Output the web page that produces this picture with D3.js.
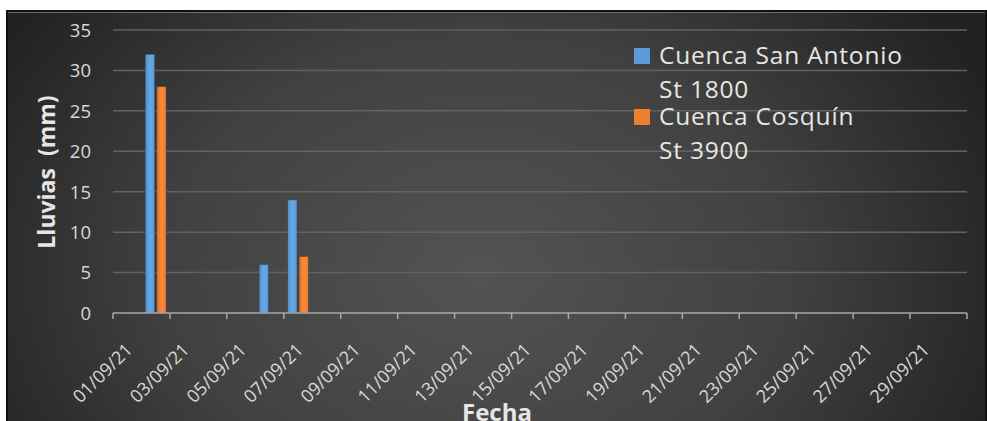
<!DOCTYPE html>
<html><head><meta charset="utf-8">
<script src="https://cdn.jsdelivr.net/npm/d3@7/dist/d3.min.js"></script>
<style>html,body{margin:0;padding:0;background:#fff;}svg{display:block;}text{white-space:pre;}</style>
</head><body><svg id="c" width="987" height="421"></svg>
<script>
const dates = ["01/09/21","02/09/21","03/09/21","04/09/21","05/09/21","06/09/21","07/09/21","08/09/21","09/09/21","10/09/21","11/09/21","12/09/21","13/09/21","14/09/21","15/09/21","16/09/21","17/09/21","18/09/21","19/09/21","20/09/21","21/09/21","22/09/21","23/09/21","24/09/21","25/09/21","26/09/21","27/09/21","28/09/21","29/09/21","30/09/21"];
const sanAntonio = [0,32,0,0,0,6,14,0,0,0,0,0,0,0,0,0,0,0,0,0,0,0,0,0,0,0,0,0,0,0];
const cosquin    = [0,28,0,0,0,0,7,0,0,0,0,0,0,0,0,0,0,0,0,0,0,0,0,0,0,0,0,0,0,0];
const legendLine1 = ["Cuenca San Antonio","Cuenca Cosquín"];
const legendLine2 = ["St 1800","St 3900"];
const yTicks = [0,5,10,15,20,25,30,35];
const colors = ["#5b9bd5","#ed7d31"];

(function(){
const FONT = "'Open Sans', sans-serif";
const svg = d3.select("#c");
const defs = svg.append("defs");
const bg = defs.append("radialGradient").attr("id","bg").attr("gradientUnits","userSpaceOnUse")
  .attr("cx",480).attr("cy",270).attr("r",560).attr("gradientTransform","translate(480,270) scale(1,0.75) translate(-480,-270)");
bg.append("stop").attr("offset","0").attr("stop-color","#535353");
bg.append("stop").attr("offset","0.55").attr("stop-color","#414141");
bg.append("stop").attr("offset","1").attr("stop-color","#222222");
colors.forEach((c,i)=>{
  const g = defs.append("linearGradient").attr("id","bar"+i).attr("x1",0).attr("x2",1).attr("y1",0).attr("y2",0);
  g.append("stop").attr("offset","0").attr("stop-color",d3.color(c).darker(0.25));
  g.append("stop").attr("offset","0.5").attr("stop-color",d3.color(c).brighter(0.25));
  g.append("stop").attr("offset","1").attr("stop-color",c);
});

svg.append("rect").attr("x",7).attr("y",11).attr("width",979).attr("height",420)
  .attr("fill","url(#bg)").attr("stroke","#111").attr("stroke-width",2);
svg.append("line").attr("x1",8).attr("x2",985).attr("y1",12.5).attr("y2",12.5).attr("stroke","#6a6a6a").attr("stroke-width",1);

const pLeft = 113, pRight = 967, pTop = 30, pBottom = 313;
const x = d3.scaleBand().domain(dates).range([pLeft,pRight]).paddingInner(0).paddingOuter(0);
const y = d3.scaleLinear().domain([0,35]).range([pBottom,pTop]);

// gridlines
svg.append("g").selectAll("line").data(yTicks.filter(d=>d>0)).join("line")
  .attr("x1",pLeft).attr("x2",pRight).attr("y1",d=>y(d)).attr("y2",d=>y(d))
  .attr("stroke","#626262").attr("stroke-width",1.5);

// y axis labels
const yAxis = d3.axisLeft(y).tickValues(yTicks).tickSize(0).tickPadding(0);
const ya = svg.append("g").attr("transform",`translate(91,0)`).call(yAxis);
ya.select(".domain").remove();
ya.selectAll("text").attr("fill","#d9d9d9").style("font-family",FONT).style("font-size","18.5px").attr("dy","0.34em");

// bars
const bw = 9.5;
[sanAntonio, cosquin].forEach((vals,si)=>{
  svg.append("g").selectAll("rect").data(vals.map((v,i)=>({v,d:dates[i]})).filter(o=>o.v>0)).join("rect")
    .attr("x",o=>x(o.d)+x.bandwidth()/2 + (si===0 ? -bw-1 : 1))
    .attr("y",o=>y(o.v)).attr("width",bw).attr("height",o=>y(0)-y(o.v))
    .attr("fill","url(#bar"+si+")").attr("stroke","#2a3a4a").attr("stroke-opacity",0.5).attr("stroke-width",1);
});

// x axis
const axisY = pBottom;
svg.append("line").attr("x1",pLeft).attr("x2",pRight).attr("y1",axisY).attr("y2",axisY).attr("stroke","#a8a8a8").attr("stroke-width",1.5);
const tickDates = dates.filter((d,i)=>i%2===0);
const tickPos = tickDates.map(d=>x(d)).concat([pRight]);
svg.append("g").selectAll("line").data(tickPos).join("line")
  .attr("x1",d=>d).attr("x2",d=>d).attr("y1",axisY).attr("y2",axisY+6)
  .attr("stroke","#a8a8a8").attr("stroke-width",1.5);
svg.append("g").selectAll("text").data(tickDates).join("text")
  .attr("transform",d=>`translate(${x(d)+x.bandwidth()-8},${axisY+38}) rotate(-45)`)
  .attr("text-anchor","end").attr("fill","#d9d9d9")
  .style("font-family",FONT).style("font-size","18px").text(d=>d);

// axis titles
svg.append("text").attr("transform","translate(55,172) rotate(-90)").attr("text-anchor","middle")
  .attr("fill","#e6e6e6").style("font-family",FONT).style("font-weight","bold").style("font-size","23px")
  .text("Lluvias  (mm)");
svg.append("text").attr("x",497).attr("y",421).attr("text-anchor","middle")
  .attr("fill","#e6e6e6").style("font-family",FONT).style("font-weight","bold").style("font-size","24px").text("Fecha");

// legend
const lg = svg.append("g").style("font-family",FONT).style("font-size","24.5px").style("letter-spacing","0.8px").attr("fill","#e6e6e6");
const rowBase = [64,125];
colors.forEach((c,i)=>{
  lg.append("rect").attr("x",634).attr("y",rowBase[i]-16).attr("width",16).attr("height",16).attr("fill",c);
  lg.append("text").attr("x",659).attr("y",rowBase[i]).text(legendLine1[i]);
  lg.append("text").attr("x",659).attr("y",rowBase[i]+34).text(legendLine2[i]);
});
})();
</script></body></html>
